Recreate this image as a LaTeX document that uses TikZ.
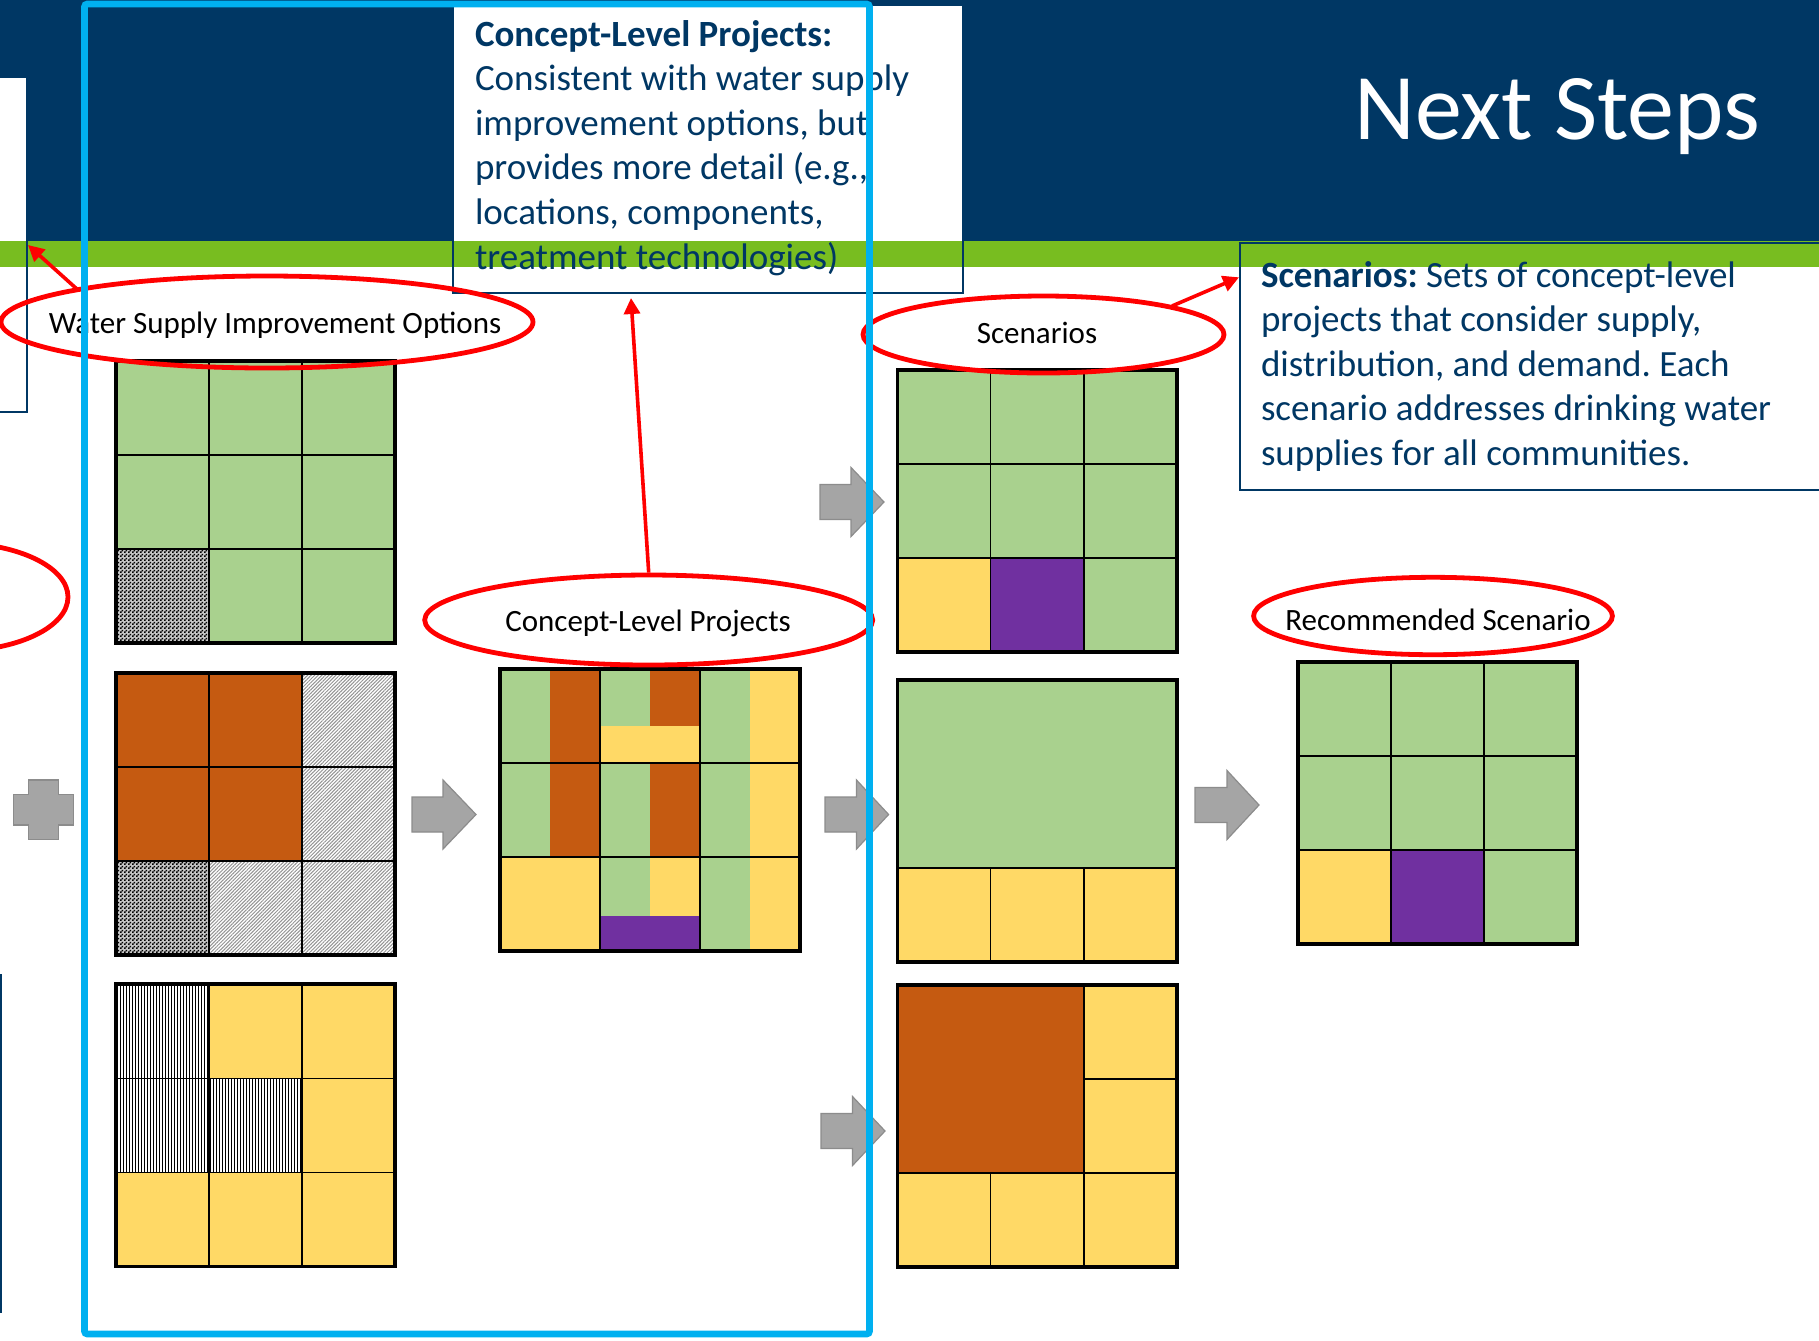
\documentclass[tikz,border=0pt]{standalone}
\usepackage{fontspec}
\setmainfont{Carlito}
\usetikzlibrary{shapes.geometric,patterns.meta,arrows.meta}
\frenchspacing

\definecolor{navy}{RGB}{0,55,100}
\definecolor{band}{RGB}{120,189,32}
\definecolor{cyanline}{RGB}{0,176,240}
\definecolor{cgreen}{RGB}{169,209,142}
\definecolor{corange}{RGB}{197,90,17}
\definecolor{cyellow}{RGB}{255,217,102}
\definecolor{cpurple}{RGB}{112,48,160}
\definecolor{agray}{RGB}{165,165,165}
\definecolor{agrayd}{RGB}{140,140,140}
\definecolor{redc}{RGB}{255,0,0}

\tikzdeclarepattern{
  name=checker,
  type=uncolored,
  bottom left={(0pt,0pt)},
  top right={(2pt,2pt)},
  tile size={(2pt,2pt)},
  code={
    \pgfpathrectangle{\pgfpointorigin}{\pgfpoint{1pt}{1pt}}
    \pgfpathrectangle{\pgfpoint{1pt}{1pt}}{\pgfpoint{1pt}{1pt}}
    \pgfusepath{fill}
  }
}

\newcommand\blockarrow[4]{%
  \filldraw[blockarr] (#1,#4-17.5) -- (#2,#4-17.5) -- (#2,#4-34.5) -- (#3,#4)
    -- (#2,#4+34.5) -- (#2,#4+17.5) -- (#1,#4+17.5) -- cycle;}

\tikzset{
  outerline/.style={draw=black, line width=1.75pt},
  innerline/.style={draw=black, line width=0.8pt},
  redell/.style={ellipse, draw=redc, line width=2.4pt, inner sep=0pt},
  redarrow/.style={draw=redc, line width=1.8pt, -{Triangle[length=8pt,width=8pt]}},
  blockarr/.style={fill=agray, draw=agrayd, line width=0.6pt},
  lbl/.style={font=\fontsize{15.5}{18}\selectfont, inner sep=0pt, anchor=base},
  boxtext/.style={font=\fontsize{18.5}{22.3}\selectfont, text=navy, inner sep=0pt, anchor=base west},
  txtbox/.style={draw=navy, line width=0.9pt},
  checkfill/.style={pattern=checker, pattern color=black},
  diagfill/.style={pattern={Lines[angle=45,distance=1.25pt,line width=0.5pt]}, pattern color=gray!85},
  vertfill/.style={pattern={Lines[angle=90,distance=1.5pt,line width=0.45pt]}, pattern color=black},
}

\begin{document}
\begin{tikzpicture}[x=0.5pt,y=-0.5pt]
\useasboundingbox (0,0) rectangle (1819,1340);
\clip (0,0) rectangle (1819,1340);
\fill[white] (0,0) rectangle (1819,1340);

% header
\fill[navy] (0,0) rectangle (1819,240.7);
% white text boxes (fills)
\fill[white] (-5,77.3) rectangle (26.7,412);
\fill[white] (453,5) rectangle (963,293);
\fill[white] (1240,243) rectangle (1830,490);
% green band
\fill[band] (0,240.7) rectangle (1819,266.7);
% box borders
\draw[txtbox] (-5,77.3) rectangle (26.7,412);
\draw[txtbox] (453,5) rectangle (963,293);
\draw[txtbox] (1240,243) rectangle (1830,490);
\draw[navy, line width=0.8pt] (0.8,974) -- (0.8,1313);

% title
\node[anchor=base west, text=white, font=\fontsize{47}{51}\selectfont, inner sep=0pt] (title) at (1354,139.3) {Next Steps};

% concept box text
\node[boxtext] (cb1) at (474.6,46) {\bfseries Concept-Level Projects:};
\node[boxtext] (cb2) at (474.6,90.6) {Consistent with water supply};
\node[boxtext] (cb3) at (474.6,135.2) {improvement options, but};
\node[boxtext] (cb4) at (474.6,179.8) {provides more detail (e.g.,};
\node[boxtext] (cb5) at (474.6,224.4) {locations, components,};
\node[boxtext] (cb6) at (474.6,269) {treatment technologies)};

% scenarios box text
\node[boxtext] (sb1) at (1260.6,287) {\textbf{Scenarios:} Sets of concept-level};
\node[boxtext] (sb2) at (1260.6,331.6) {projects that consider supply,};
\node[boxtext] (sb3) at (1260.6,376.2) {distribution, and demand. Each};
\node[boxtext] (sb4) at (1260.6,420.8) {scenario addresses drinking water};
\node[boxtext] (sb5) at (1260.6,465.4) {supplies for all communities.};

% ---- column 1 grids
% G1
\fill[cgreen] (116,361) rectangle (395,643);
\fill[gray!45] (116,549) rectangle (209,643);
\fill[checkfill] (116,549) rectangle (209,643);
\draw[innerline] (209,361) -- (209,643) (302,361) -- (302,643) (116,455) -- (395,455) (116,549) -- (395,549);
\draw[outerline] (116,361) rectangle (395,643);
% G2
\fill[corange] (116,673) rectangle (302,861);
\fill[white] (302,673) rectangle (395,861) (209,861) rectangle (395,955);
\fill[diagfill] (302,673) rectangle (395,861) (209,861) rectangle (395,955);
\fill[gray!45] (116,861) rectangle (209,955);
\fill[checkfill] (116,861) rectangle (209,955);
\draw[innerline] (209,673) -- (209,955) (302,673) -- (302,955) (116,767) -- (395,767) (116,861) -- (395,861);
\draw[outerline] (116,673) rectangle (395,955);
% G3
\fill[cyellow] (116,984) rectangle (395,1266.5);
\fill[white] (116,984) rectangle (209,1172.5) (209,1078.5) rectangle (302,1172.5);
\fill[vertfill] (116,984) rectangle (209,1172.5) (209,1078.5) rectangle (302,1172.5);
\draw[innerline] (209,984) -- (209,1266.5) (302,984) -- (302,1266.5) (116,1078.5) -- (395,1078.5) (116,1172.5) -- (395,1172.5);
\draw[outerline] (116,984) rectangle (395,1266.5);

% ---- concept grid
\fill[cgreen] (500,669) rectangle (800,951);
\fill[corange] (550,669) rectangle (600,857);
\fill[corange] (650,669) rectangle (700,857);
\fill[cyellow] (600,726) rectangle (700,763);
\fill[cyellow] (750,669) rectangle (800,951);
\fill[cyellow] (500,857) rectangle (600,951);
\fill[cyellow] (650,857) rectangle (700,916);
\fill[cpurple] (600,916) rectangle (700,951);
\draw[innerline] (600,669) -- (600,951) (700,669) -- (700,951) (500,763) -- (800,763) (500,857) -- (800,857);
\draw[outerline] (500,669) rectangle (800,951);

% ---- scenario grids
% S1
\fill[cgreen] (897.5,370) rectangle (1177,652);
\fill[cyellow] (897.5,558) rectangle (990.5,652);
\fill[cpurple] (990.5,558) rectangle (1084,652);
\draw[innerline] (990.5,370) -- (990.5,652) (1084,370) -- (1084,652) (897.5,464) -- (1177,464) (897.5,558) -- (1177,558);
\draw[outerline] (897.5,370) rectangle (1177,652);
% S2
\fill[cgreen] (897.5,680) rectangle (1177,868);
\fill[cyellow] (897.5,868) rectangle (1177,962);
\draw[innerline] (897.5,868) -- (1177,868) (990.5,868) -- (990.5,962) (1084,868) -- (1084,962);
\draw[outerline] (897.5,680) rectangle (1177,962);
% S3
\fill[cyellow] (897.5,985) rectangle (1177,1267);
\fill[corange] (897.5,985) rectangle (1084,1173);
\draw[innerline] (1084,985) -- (1084,1267) (897.5,1173) -- (1177,1173) (1084,1079) -- (1177,1079) (990.5,1173) -- (990.5,1267);
\draw[outerline] (897.5,985) rectangle (1177,1267);

% ---- recommended grid
\fill[cgreen] (1298,662) rectangle (1577,944);
\fill[cyellow] (1298,850) rectangle (1391,944);
\fill[cpurple] (1391,850) rectangle (1484,944);
\draw[innerline] (1391,662) -- (1391,944) (1484,662) -- (1484,944) (1298,756) -- (1577,756) (1298,850) -- (1577,850);
\draw[outerline] (1298,662) rectangle (1577,944);

% ---- gray arrows
\blockarrow{412}{443}{476}{814.5}
\blockarrow{820}{851}{884}{502}
\blockarrow{825}{856.5}{888.6}{814.5}
\blockarrow{821}{852.5}{885}{1131}
\blockarrow{1195}{1227}{1259}{805}
% plus sign
\filldraw[blockarr] (28.3,780) -- (58.7,780) -- (58.7,794.3) -- (73.3,794.3) -- (73.3,825) -- (58.7,825)
  -- (58.7,839.3) -- (28.3,839.3) -- (28.3,825) -- (13.3,825) -- (13.3,794.3) -- (28.3,794.3) -- cycle;

% ---- red ellipses and labels
\node[redell, minimum width=266pt, minimum height=46pt] (e1) at (267,322) {};
\node[lbl] (l1) at (275,333) {Water Supply Improvement Options};
\node[redell, minimum width=112pt, minimum height=54pt] (e2) at (-44,597) {};
\node[redell, minimum width=224pt, minimum height=45pt] (e3) at (648.7,620) {};
\node[lbl] (l3) at (648,631.5) {Concept-Level Projects};
\node[redell, minimum width=180.5pt, minimum height=38.5pt] (e4) at (1043.5,334.5) {};
\node[lbl] (l4) at (1037,343) {Scenarios};
\node[redell, minimum width=179.4pt, minimum height=38.7pt] (e5) at (1433,616) {};
\node[lbl] (l5) at (1438,630.8) {Recommended Scenario};

% red arrows
\coordinate (a1s) at (78,290);
\coordinate (a1e) at (28,245);
\draw[redarrow] (a1s) -- (a1e);
\coordinate (a3e) at (631,298);
\draw[redarrow] (e3.north) -- (a3e);
\coordinate (a4s) at (1172,306);
\coordinate (a4e) at (1239,277.3);
\draw[redarrow] (a4s) -- (a4e);

% cyan frame on top
\draw[cyanline, line width=3.4pt, rounded corners=1.5pt] (84.5,4) rectangle (869.5,1334);
\end{tikzpicture}
\end{document}
